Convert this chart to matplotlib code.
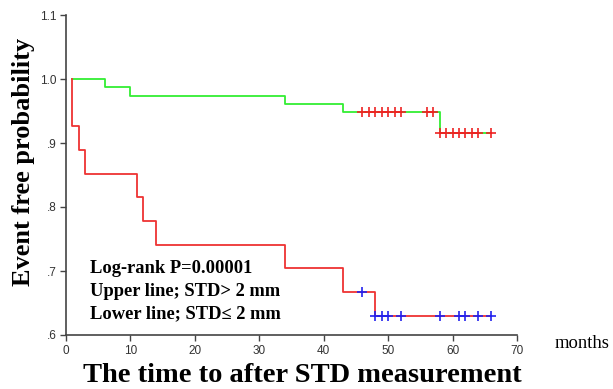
import matplotlib
matplotlib.use("Agg")
import matplotlib.pyplot as plt

# step curves (time in months, event free probability)
upperTimes = [1, 6, 10, 34, 43, 58, 66]
upperSurv = [1.0, 0.987, 0.974, 0.961, 0.948, 0.915, 0.915]
lowerTimes = [1, 1, 2, 3, 11, 12, 14, 34, 43, 48, 66]
lowerSurv = [1.0, 0.926, 0.889, 0.852, 0.815, 0.778, 0.741, 0.704, 0.667, 0.630, 0.630]

# censored observations
upperCensorTimes = [46, 47, 48, 49, 50, 51, 52, 56, 57, 58, 59, 60, 61, 62, 63, 64, 66]
upperCensorSurv = [0.948] * 9 + [0.915] * 8
lowerCensorTimes = [46, 48, 49, 50, 52, 58, 61, 62, 64, 66]
lowerCensorSurv = [0.667] + [0.630] * 9

xTicks = [0, 10, 20, 30, 40, 50, 60, 70]
yTicks = [0.6, 0.7, 0.8, 0.9, 1.0, 1.1]
yTickLabels = ['.6', '.7', '.8', '.9', '1.0', '1.1']

serif = ['Liberation Serif', 'DejaVu Serif']
sans = ['Liberation Sans', 'DejaVu Sans']
axisColor = '#444444'

fig = plt.figure(figsize=(6.13, 3.89), dpi=100)
ax = fig.add_axes([66 / 613, 54 / 389, 451 / 613, 320 / 389])

ax.plot(upperTimes, upperSurv, drawstyle='steps-post', color='#33ee33', lw=1.3)
ax.plot(lowerTimes, lowerSurv, drawstyle='steps-post', color='#ee3333', lw=1.3)
ax.plot(upperCensorTimes, upperCensorSurv, ls='none', marker='+', ms=7, mew=1.2, color='#ee2222')
ax.plot(lowerCensorTimes, lowerCensorSurv, ls='none', marker='+', ms=7, mew=1.2, color='#2222ee')

ax.set_xlim(0, 70)
ax.set_ylim(0.6, 1.1)
ax.set_xticks(xTicks)
ax.set_yticks(yTicks)
ax.set_yticklabels(yTickLabels)
for side in ['top', 'right']:
    ax.spines[side].set_visible(False)
for side in ['left', 'bottom']:
    ax.spines[side].set_color(axisColor)
    ax.spines[side].set_linewidth(1.2)
ax.tick_params(direction='out', length=4, width=1, color=axisColor,
               labelsize=8.5, labelcolor='#333333', pad=3)
for lab in ax.get_xticklabels() + ax.get_yticklabels():
    lab.set_family(sans)

ax.text(0.053, 0.1375, 'Log-rank P=0.00001\nUpper line; STD> 2 mm\nLower line; STD\u2264 2 mm',
        transform=ax.transAxes, family=serif, fontweight='bold', fontsize=13.3,
        va='center', ha='left', linespacing=1.45)

fig.text(12 / 613, 1 - 162 / 389, 'Event free probability', family=serif,
         fontweight='bold', fontsize=19, rotation=90, ha='left', va='center')
fig.text(302 / 613, 1 / 389, 'The time to after STD measurement', family=serif,
         fontweight='bold', fontsize=20.5, ha='center', va='bottom')
fig.text(555 / 613, 1 - 343 / 389, 'months', family=serif, fontsize=13.4,
         ha='left', va='center')

fig.savefig('out.png', dpi=100)
